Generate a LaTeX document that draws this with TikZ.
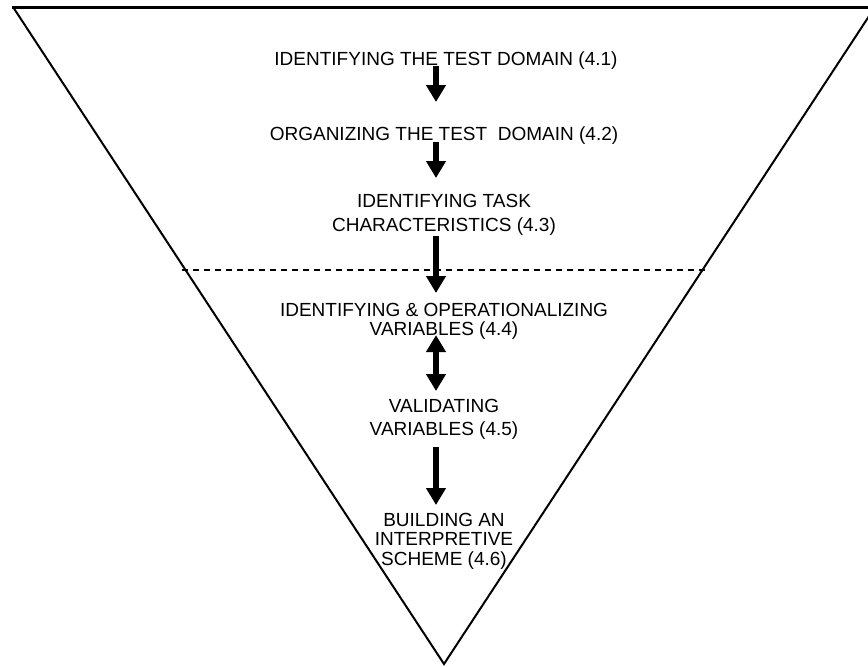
\documentclass[tikz,border=0pt]{standalone}
\usepackage{fontspec}
\setmainfont{Liberation Sans}
\usetikzlibrary{arrows.meta}
\tikzset{
    stage/.style={align=center, inner sep=0pt, anchor=north, font=\fontsize{19}{19.5}\selectfont},
    flow/.style={-{Triangle[length=17pt, width=19pt]}, line width=6pt},
    twoway/.style={{Triangle[length=17pt, width=19pt]}-{Triangle[length=17pt, width=19pt]}, line width=6pt}
}
\begin{document}
\begin{tikzpicture}[x=1pt, y=-1pt]
    \useasboundingbox (0,0) rectangle (868,667);
    \clip (0,0) rectangle (868,667);
    % funnel outline and divider
    \draw[line width=3pt] (12,7) -- (880,7);
    \draw[line width=2pt] (13,7) -- (444,664) -- (875,7);
    \draw[line width=1.5pt, dash pattern=on 6pt off 5pt] (182,270) -- (707,270);
    % stages
    \node[stage] (domain) at (446,52) {IDENTIFYING THE TEST DOMAIN (4.1)};
    \node[stage] (organize) at (444,127) {ORGANIZING THE TEST\ \ DOMAIN (4.2)};
    \node[stage] (taskchar) at (444,194) {IDENTIFYING TASK\\[5pt]CHARACTERISTICS (4.3)};
    \node[stage] (variables) at (444,303) {IDENTIFYING \& OPERATIONALIZING\\VARIABLES (4.4)};
    \node[stage] (validate) at (444,399) {VALIDATING\\[4pt]VARIABLES (4.5)};
    \node[stage] (scheme) at (444,513) {BUILDING AN\\INTERPRETIVE\\SCHEME (4.6)};
    % arrows
    \draw[flow, shorten <=-4pt, shorten >=25pt] ([xshift=-10pt]domain.south) -- ([xshift=-8pt]organize.north);
    \draw[flow, shorten <=-3pt, shorten >=16pt] ([xshift=-8pt]organize.south) -- ([xshift=-8pt]taskchar.north);
    \draw[flow, shorten <=0pt, shorten >=10pt] ([xshift=-8pt]taskchar.south) -- ([xshift=-8pt]variables.north);
    \draw[twoway, shorten <=-5pt, shorten >=8pt] ([xshift=-8pt]variables.south) -- ([xshift=-8pt]validate.north);
    \draw[flow, shorten <=7pt, shorten >=8pt] ([xshift=-8pt]validate.south) -- ([xshift=-8pt]scheme.north);
\end{tikzpicture}
\end{document}
